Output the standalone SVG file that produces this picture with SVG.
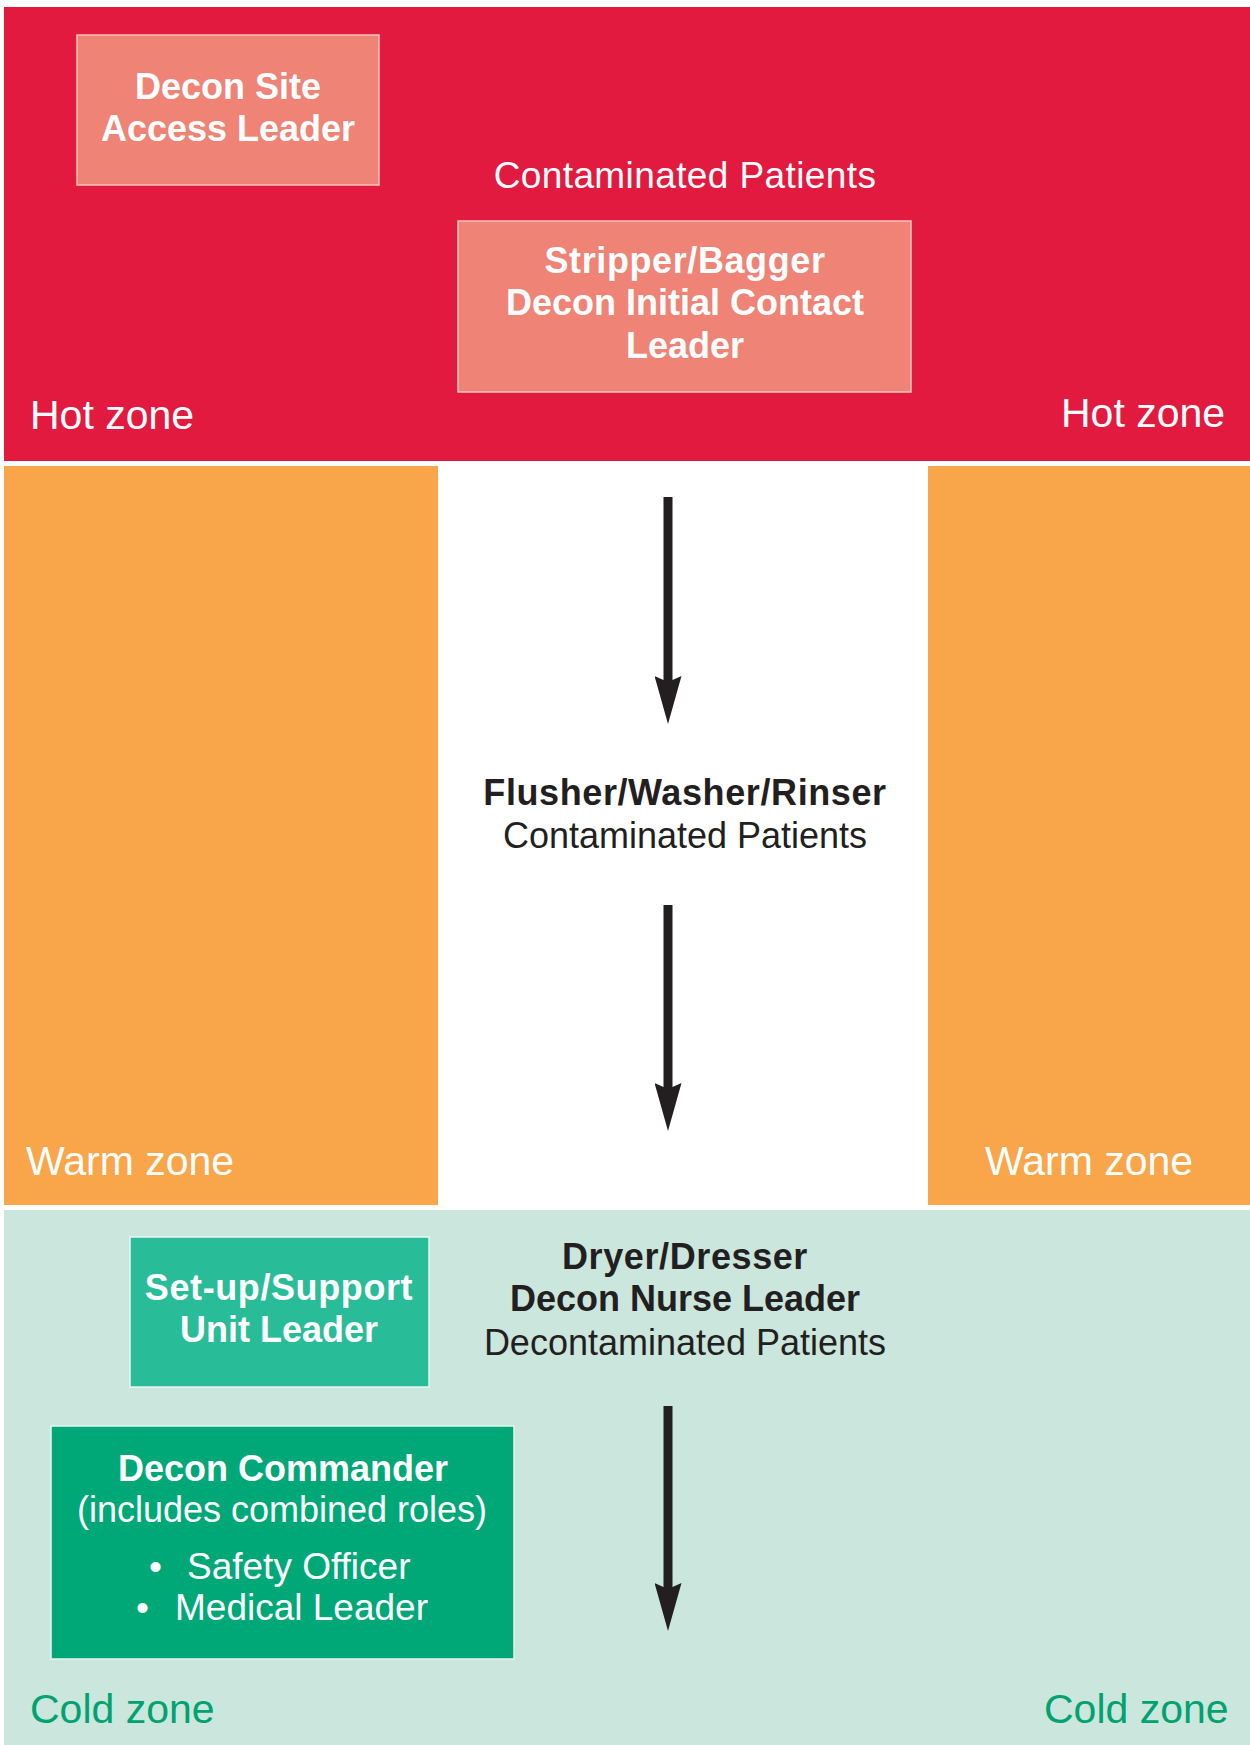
<svg xmlns="http://www.w3.org/2000/svg" width="1250" height="1745" viewBox="0 0 1250 1745">
<style>
text{font-family:"Liberation Sans",Arial,sans-serif}
.bw{fill:#ffffff;font-weight:bold;font-size:36px;text-anchor:middle}
.rw{fill:#ffffff;font-size:36px;text-anchor:middle}
.bd{fill:#231f20;font-weight:bold;font-size:36px;text-anchor:middle}
.rd{fill:#231f20;font-size:36px;text-anchor:middle}
.zone{fill:#ffffff;font-size:41px}
.cold{fill:#00a270;font-size:41px}
.salmon{fill:#ee8376;stroke:#f6c4bc;stroke-width:1.5}
.conn{stroke:#231f20;stroke-width:9;fill:none;marker-end:url(#head)}
</style>
<defs>
<marker id="head" markerUnits="userSpaceOnUse" viewBox="0 0 48 27" markerWidth="48" markerHeight="27" refX="6" refY="13.5" orient="auto">
<path d="M0,0 L48,13.5 L0,27 L6,13.5 Z" fill="#231f20"/>
</marker>
</defs>
<rect width="1250" height="1745" fill="#ffffff"/>
<g id="zones">
<rect id="hot-zone" x="4" y="7" width="1246" height="454" fill="#e31a3f"/>
<rect id="warm-zone-left" x="4" y="466" width="434" height="739" fill="#f9a54a"/>
<rect id="warm-zone-right" x="928" y="466" width="322" height="739" fill="#f9a54a"/>
<rect id="cold-zone" x="4" y="1210" width="1246" height="535" fill="#cbe6dd"/>
<text class="zone" x="30" y="429">Hot zone</text>
<text class="zone" x="1061" y="427">Hot zone</text>
<text class="zone" x="26" y="1175">Warm zone</text>
<text class="zone" x="985" y="1175">Warm zone</text>
<text class="cold" x="30" y="1723">Cold zone</text>
<text class="cold" x="1044" y="1723">Cold zone</text>
</g>
<g id="decon-site-access-leader">
<rect class="salmon" x="77" y="35" width="302" height="150"/>
<text class="bw" x="228" y="99">Decon Site</text>
<text class="bw" x="228" y="141">Access Leader</text>
</g>
<g id="contaminated-patients-hot">
<text class="rw" x="685" y="188" style="font-size:37px;letter-spacing:0.4px">Contaminated Patients</text>
</g>
<g id="stripper-bagger">
<rect class="salmon" x="458" y="221" width="453" height="171"/>
<text class="bw" x="685" y="273" style="letter-spacing:0.6px">Stripper/Bagger</text>
<text class="bw" x="685" y="315">Decon Initial Contact</text>
<text class="bw" x="685" y="358">Leader</text>
</g>
<g id="flusher-washer-rinser">
<text class="bd" x="685" y="805" style="letter-spacing:0.6px">Flusher/Washer/Rinser</text>
<text class="rd" x="685" y="848">Contaminated Patients</text>
</g>
<g id="dryer-dresser">
<text class="bd" x="685" y="1269" style="letter-spacing:0.6px">Dryer/Dresser</text>
<text class="bd" x="685" y="1311">Decon Nurse Leader</text>
<text class="rd" x="685" y="1355">Decontaminated Patients</text>
</g>
<g id="setup-support-unit-leader">
<rect x="130" y="1237" width="299" height="150" fill="#29bc98" stroke="#e6f6f0" stroke-width="1.5"/>
<text class="bw" x="279" y="1300" style="letter-spacing:0.6px">Set-up/Support</text>
<text class="bw" x="279" y="1342">Unit Leader</text>
</g>
<g id="decon-commander">
<rect x="51" y="1426" width="463" height="233" fill="#00a878" stroke="#e6f6f0" stroke-width="1.5"/>
<text class="bw" x="283" y="1481">Decon Commander</text>
<text class="rw" x="282" y="1522">(includes combined roles)</text>
<text class="rw" style="text-anchor:start;font-size:37px"><tspan x="149" y="1579">•</tspan><tspan x="187" y="1579">Safety Officer</tspan></text>
<text class="rw" style="text-anchor:start;font-size:37px"><tspan x="136" y="1620">•</tspan><tspan x="175" y="1620">Medical Leader</tspan></text>
</g>
<g id="connectors">
<line class="conn" x1="668" y1="497" x2="668" y2="682"/>
<line class="conn" x1="668" y1="905" x2="668" y2="1089"/>
<line class="conn" x1="668" y1="1406" x2="668" y2="1589"/>
</g>
</svg>
